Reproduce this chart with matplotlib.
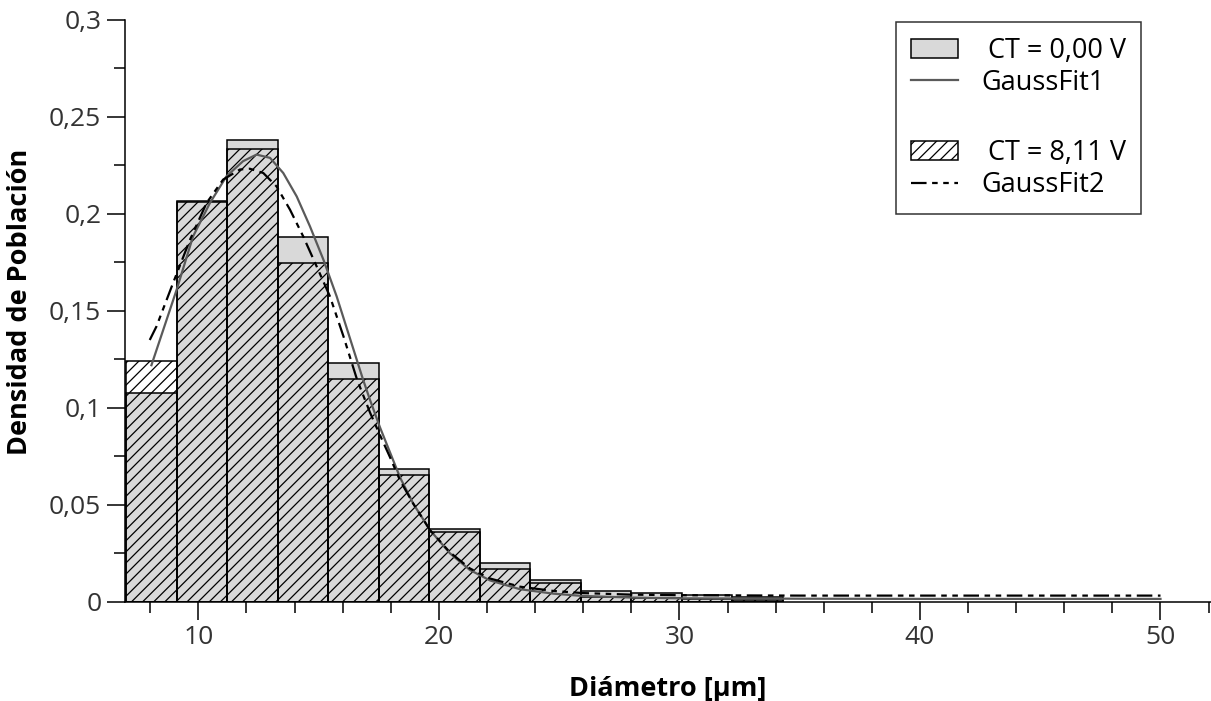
import numpy as np
import matplotlib
matplotlib.use("Agg")
import matplotlib.pyplot as plt
from matplotlib.patches import Patch
from matplotlib.lines import Line2D
from matplotlib.ticker import MultipleLocator, FuncFormatter

plt.rcParams['font.family'] = ['Open Sans', 'DejaVu Sans']
plt.rcParams['hatch.linewidth'] = 0.9

# histogram bins (diameter, um)
bin_start = 7.0
bin_width = 2.1
n_bins = 13

# densidad de poblacion por clase
dens_ct0 = [0.1077, 0.2068, 0.2382, 0.1880, 0.1230, 0.0683, 0.0374, 0.0199,
            0.0112, 0.0056, 0.0045, 0.0035, 0.0025]
dens_ct811 = [0.1242, 0.2064, 0.2334, 0.1746, 0.1149, 0.0654, 0.0362, 0.0168,
              0.0095, 0.0025, 0.0020, 0.0015, 0.0010]

# ajustes gaussianos
fit1_x = [8.05, 8.4, 9.1, 9.78, 10.48, 11.17, 11.86, 12.42, 12.98, 13.53, 14.09,
          14.64, 15.2, 15.75, 16.3, 16.85, 17.14, 17.55, 17.97, 18.39, 18.94,
          19.63, 20.46, 21.29, 22.13, 23.37, 24.76, 26.0, 28.0, 30.0, 35.0,
          40.0, 50.0]
fit1_y = [0.122, 0.135, 0.161, 0.1884, 0.2056, 0.2194, 0.2272, 0.2306, 0.2289,
          0.2211, 0.209, 0.1936, 0.1764, 0.1575, 0.136, 0.1145, 0.104, 0.090,
          0.077, 0.064, 0.0505, 0.037, 0.025, 0.0164, 0.011, 0.0065, 0.0042,
          0.003, 0.0022, 0.0018, 0.0016, 0.0015, 0.0015]

fit2_x = [7.98, 8.26, 8.95, 9.65, 10.34, 11.03, 11.73, 12.14, 12.7, 13.25, 13.81,
          14.36, 14.92, 15.47, 16.03, 16.6, 17.14, 17.55, 17.97, 18.39, 18.94,
          19.63, 20.46, 21.29, 22.13, 23.37, 24.76, 26.0, 28.0, 30.0, 35.0,
          40.0, 50.0]
fit2_y = [0.135, 0.142, 0.1644, 0.1866, 0.2056, 0.2177, 0.2229, 0.2233, 0.2211,
          0.2142, 0.2022, 0.1884, 0.1729, 0.1575, 0.137, 0.1145, 0.0975, 0.086,
          0.0745, 0.0625, 0.0505, 0.037, 0.0255, 0.0172, 0.012, 0.0078, 0.0056,
          0.0045, 0.0037, 0.0034, 0.0032, 0.0032, 0.0032]

edges = bin_start + bin_width * np.arange(n_bins)

fig = plt.figure(figsize=(12.11, 7.01), dpi=100)
ax = fig.add_axes([0.1032, 0.1415, 0.8968, 0.830])

gray = '#d9d9d9'
dash_dot_dot = (7, 2.5, 2.5, 2.5, 2.5, 2.5)
ax.bar(edges, dens_ct0, width=bin_width, align='edge', color=gray,
       edgecolor='black', linewidth=1.1, zorder=1)
ax.bar(edges, dens_ct811, width=bin_width, align='edge', fill=False,
       hatch='///', edgecolor='black', linewidth=1.1, zorder=2)

ax.plot(fit1_x, fit1_y, color='#5a5a5a', linewidth=1.6, zorder=3)
ax.plot(fit2_x, fit2_y, color='black', linewidth=1.6, dashes=dash_dot_dot, zorder=4)

ax.set_xlim(6.95, 52.1)
ax.set_ylim(0, 0.3)

ax.spines['top'].set_visible(False)
ax.spines['right'].set_visible(False)
for s in ['left', 'bottom']:
    ax.spines[s].set_linewidth(1.1)

ax.xaxis.set_major_locator(MultipleLocator(10))
ax.xaxis.set_minor_locator(MultipleLocator(2))
ax.yaxis.set_major_locator(MultipleLocator(0.05))
ax.yaxis.set_minor_locator(MultipleLocator(0.025))

def coma(v, pos):
    s = ('%.2f' % v).rstrip('0').rstrip('.')
    return s.replace('.', ',')

ax.yaxis.set_major_formatter(FuncFormatter(coma))
ax.tick_params(which='major', direction='out', length=13, width=1.1,
               labelsize=19, pad=4, labelcolor='#333333')
ax.tick_params(which='minor', direction='out', length=8, width=1.1)

ax.set_xlabel('Diámetro [µm]', fontsize=19.5, fontweight='bold')
ax.set_ylabel('Densidad de Población', fontsize=19.5, fontweight='bold')
ax.xaxis.set_label_coords(0.5, -0.128)
ax.yaxis.set_label_coords(-0.085, 0.515)

handles = [Patch(facecolor=gray, edgecolor='black', linewidth=1.1),
           Line2D([], [], color='#5a5a5a', linewidth=1.6),
           Line2D([], [], color='none'),
           Patch(facecolor='white', edgecolor='black', hatch='///', linewidth=1.1),
           Line2D([], [], color='black', linewidth=1.6, dashes=dash_dot_dot)]
labels = [' CT = 0,00 V', 'GaussFit1', ' ', ' CT = 8,11 V', 'GaussFit2']
leg = ax.legend(handles, labels, loc='upper left', bbox_to_anchor=(0.740, 0.9686),
                bbox_transform=fig.transFigure, fontsize=19.5, frameon=True,
                fancybox=False, handlelength=1.75, handletextpad=0.85,
                borderpad=0.55, labelspacing=0.15, borderaxespad=0)
leg.get_frame().set_edgecolor('black')
leg.get_frame().set_linewidth(1.1)
leg.get_texts()[2].set_fontsize(25)

fig.savefig('out.png', dpi=100)
